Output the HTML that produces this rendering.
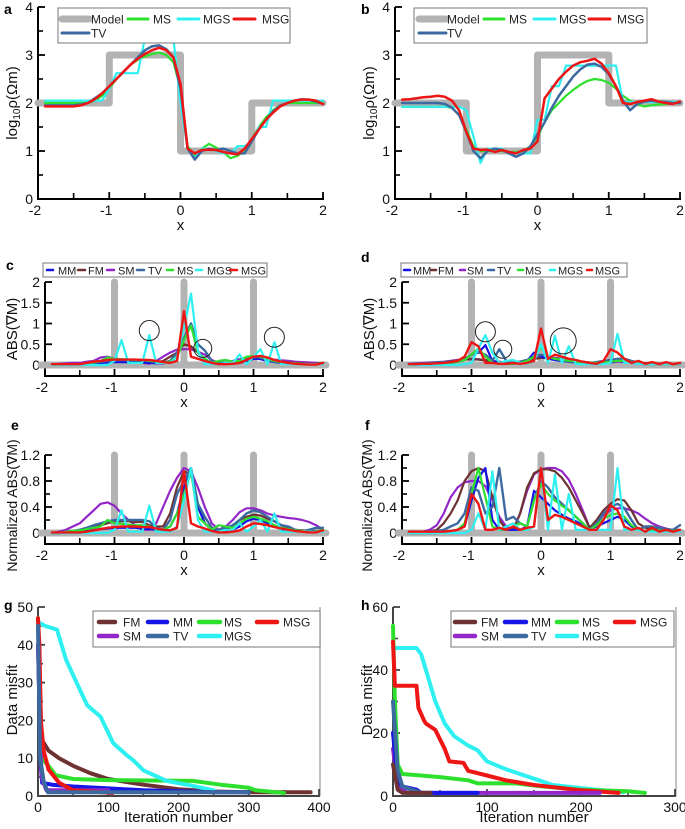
<!DOCTYPE html>
<html><head><meta charset="utf-8"><style>
html,body{margin:0;padding:0;background:#fff;}
svg{display:block;font-family:"Liberation Sans",sans-serif;}
</style></head><body>
<svg id="fig" width="685" height="829" viewBox="0 0 685 829" xmlns="http://www.w3.org/2000/svg"></svg>
<script>
// ---------- DATA ----------
const xGrid=[-1.9,-1.8,-1.7,-1.6,-1.5,-1.4,-1.3,-1.2,-1.1,-1.0,-0.9,-0.8,-0.7,-0.6,-0.5,-0.4,-0.3,-0.2,-0.1,0.0,0.1,0.2,0.3,0.4,0.5,0.6,0.7,0.8,0.9,1.0,1.1,1.2,1.3,1.4,1.5,1.6,1.7,1.8,1.9,2.0];
const modelX=[-2,-1,-1,0,0,1,1,2];
const modelA=[2,2,3,3,1,1,2,2];
const modelB=[2,2,1,1,3,3,2,2];
const boundaries=[-1,0,1];
// panel a
const a_MS=[2,2,2,2,2,2,2,2.05,2.15,2.3,2.5,2.65,2.8,2.9,2.97,3.02,3.05,3.0,2.85,2.3,1.1,0.9,1.05,1.15,1.07,0.98,0.85,0.9,1.0,1.25,1.5,1.7,1.85,1.95,2,2,2,2,2,2];
const a_MSG=[1.93,1.93,1.93,1.93,1.93,1.95,2.0,2.08,2.2,2.35,2.5,2.65,2.8,2.92,3.02,3.1,3.15,3.1,2.95,2.4,1.05,0.95,1.02,1.03,1.02,0.98,0.95,0.93,1.05,1.25,1.45,1.65,1.8,1.93,2.0,2.05,2.07,2.07,2.05,1.98];
const a_TV=[1.95,1.95,1.95,1.95,1.95,1.97,2.0,2.1,2.2,2.35,2.5,2.65,2.8,2.95,3.1,3.18,3.2,3.12,2.95,2.3,1.05,0.82,1.0,1.05,1.02,1.05,1.0,0.95,0.95,1.2,1.45,1.65,1.82,1.95,2.0,2.05,2.08,2.07,2.03,1.98];
const a_MGS=[2.05,2.05,2.05,2.05,2.05,2.05,2.05,2.05,2.05,2.3,2.62,2.62,2.62,2.62,3.35,3.35,3.35,3.35,3.35,2.0,1.05,0.85,1.05,1.05,1.0,0.95,0.95,1.1,1.1,1.2,1.5,1.5,2.05,2.05,2.05,2.05,2.05,2.05,2.05,2.05];
// panel b
const b_MSG=[2.07,2.08,2.1,2.12,2.13,2.15,2.13,2.05,1.85,1.4,1.05,1.02,1.03,0.98,1.02,0.98,0.95,1.02,1.05,1.2,2.1,2.3,2.5,2.65,2.78,2.85,2.88,2.92,2.82,2.62,2.35,2.0,1.98,2.02,2.05,2.08,2.03,2.0,1.98,2.03];
const b_MS=[1.92,1.92,1.92,1.92,1.92,1.92,1.92,1.9,1.75,1.45,1.1,1.0,1.0,1.0,1.0,0.98,0.98,1.0,1.1,1.3,1.6,1.85,2.0,2.15,2.27,2.38,2.46,2.5,2.48,2.42,2.3,2.15,2.05,1.97,1.93,1.95,1.97,1.98,2.0,2.0];
const b_TV=[2.0,2.0,2.0,2.0,2.0,2.0,1.98,1.9,1.75,1.4,1.0,0.85,1.0,1.05,1.02,0.95,0.88,0.95,1.1,1.35,1.6,1.9,2.15,2.35,2.55,2.7,2.8,2.82,2.75,2.6,2.35,2.05,1.85,1.98,2.03,2.05,2.03,2.02,2.0,2.0];
const b_MGS=[1.92,1.92,1.92,1.92,1.92,1.92,1.92,1.92,1.92,1.85,1.3,0.75,1.05,1.05,1.05,0.95,0.95,0.95,0.95,1.65,1.65,2.35,2.35,2.78,2.78,2.78,2.78,2.78,2.78,2.78,2.78,2.02,2.02,2.02,2.02,2.02,2.02,2.02,2.02,2.02];
// panel c
const c_MSG=[.02,.02,.02,.02,.02,.05,.08,.1,.12,.13,.13,.13,.13,.12,.12,.1,.07,.05,.1,1.3,.2,.15,.1,.05,.02,.02,.03,.05,.12,.2,.22,.18,.12,.08,.05,.03,.02,.01,.01,.05];
const c_MGS=[0,0,0,0,0,0,0,0,0,.1,.6,.05,.05,.05,.72,.05,.05,.05,.2,.9,1.72,.35,.02,.02,.02,.05,.05,.25,.02,.2,.38,.02,.55,.02,.02,.02,.02,.02,.02,.02];
const c_SM=[.02,.03,.04,.05,.05,.08,.1,.18,.2,.15,.12,.1,.08,.05,.03,.1,.2,.3,.37,.38,.38,.32,.25,.12,.05,.05,.1,.14,.17,.18,.16,.14,.13,.11,.1,.08,.07,.06,.05,.03];
const c_FM=[.02,.02,.02,.02,.02,.04,.06,.08,.1,.1,.1,.1,.1,.08,.06,.06,.1,.2,.3,.5,.45,.3,.15,.05,.03,.03,.05,.1,.15,.18,.17,.12,.1,.08,.06,.05,.04,.03,.03,.05];
const c_TV=[.02,.02,.02,.02,.02,.04,.06,.08,.1,.12,.12,.12,.12,.12,.1,.08,.05,.1,.3,.65,1.0,.5,.35,.1,.05,.05,.05,.08,.15,.2,.18,.12,.08,.05,.04,.03,.03,.02,.02,.05];
const c_MS=[.02,.02,.02,.02,.02,.04,.06,.1,.18,.15,.14,.13,.12,.12,.1,.08,.05,.08,.2,.6,.95,.3,.15,.05,.1,.12,.08,.1,.2,.22,.2,.15,.1,.07,.05,.04,.03,.02,.02,.05];
const c_MM=[.02,.02,.02,.02,.02,.03,.04,.05,.06,.07,.07,.07,.07,.06,.05,.04,.04,.1,.25,.6,1.0,.3,.15,.05,.03,.03,.03,.05,.1,.15,.14,.1,.07,.05,.04,.03,.03,.02,.02,.04];
const c_circleX=[-0.5,0.27,1.3];
const c_circleY=[0.83,0.4,0.67];
// panel d
const d_MSG=[.02,.02,.03,.03,.04,.05,.07,.1,.2,.55,.45,.05,.05,.03,.03,.05,.03,.05,.1,.88,.15,.25,.2,.15,.12,.08,.05,.03,.1,.38,.3,.15,.05,.1,.03,.07,.02,.07,.02,.05];
const d_MGS=[0,0,0,0,0,0,0,0,.02,.05,.4,.72,.3,.05,.1,.12,.05,.03,.1,.5,.05,.7,.05,.45,.02,.02,.02,.02,.02,.05,.75,.05,.05,.03,.02,.02,.02,.02,.02,.02];
const d_TV=[.02,.03,.04,.05,.06,.07,.08,.1,.15,.25,.3,.25,.1,.38,.1,.05,.08,.12,.2,.25,.2,.15,.12,.1,.08,.06,.05,.07,.1,.12,.15,.15,.1,.06,.04,.03,.03,.02,.02,.03];
const d_MM=[.02,.02,.02,.02,.02,.03,.05,.08,.12,.25,.3,.48,.1,.05,.03,.03,.05,.1,.3,.2,.15,.12,.1,.08,.06,.05,.04,.04,.05,.06,.1,.08,.05,.03,.02,.02,.02,.02,.02,.02];
const d_MS=[.02,.02,.02,.02,.02,.03,.05,.08,.12,.25,.4,.2,.05,.03,.03,.03,.05,.1,.2,.42,.2,.15,.12,.1,.08,.06,.05,.05,.06,.08,.1,.1,.07,.04,.02,.02,.02,.02,.02,.02];
const d_SM=[.03,.04,.05,.06,.07,.08,.1,.12,.14,.15,.14,.12,.1,.08,.06,.06,.08,.12,.15,.18,.18,.17,.15,.12,.1,.08,.06,.05,.05,.06,.08,.08,.06,.05,.04,.04,.03,.03,.02,.02];
const d_FM=[.02,.03,.04,.05,.06,.07,.09,.11,.13,.14,.13,.11,.09,.07,.05,.06,.08,.12,.15,.17,.17,.16,.14,.12,.1,.08,.06,.05,.06,.08,.1,.1,.07,.05,.04,.03,.03,.02,.02,.02];
const d_circleX=[-0.8,-0.55,0.32];
const d_circleY=[0.8,0.38,0.58];
// panel e
const e_SM=[0,.02,.05,.1,.15,.25,.35,.45,.47,.42,.3,.2,.12,.05,.05,.15,.4,.65,.85,1.0,.95,.7,.4,.15,.05,.1,.2,.32,.38,.38,.35,.3,.27,.25,.23,.22,.2,.17,.12,.05];
const e_FM=[0,0,.02,.03,.05,.07,.1,.12,.15,.18,.18,.18,.17,.17,.12,.1,.1,.3,.7,.95,.9,.45,.15,.05,.05,.05,.1,.2,.25,.28,.27,.22,.18,.12,.08,.05,.04,.03,.03,.05];
const e_TV=[0,0,.02,.03,.05,.08,.12,.15,.18,.2,.2,.2,.2,.2,.18,.08,.05,.2,.6,.8,1.0,.45,.25,.08,.05,.08,.12,.2,.3,.35,.32,.25,.18,.12,.1,.05,.03,.05,.08,.08];
const e_MS=[0,0,.02,.03,.04,.06,.08,.1,.2,.15,.14,.13,.12,.12,.1,.06,.05,.1,.3,.6,.95,.25,.15,.05,.12,.1,.08,.15,.22,.25,.22,.18,.12,.08,.06,.04,.03,.02,.02,.05];
const e_MM=[0,0,.01,.02,.03,.04,.05,.06,.07,.08,.08,.08,.08,.07,.06,.05,.05,.1,.3,.7,1.0,.4,.15,.05,.03,.03,.05,.1,.18,.22,.2,.15,.1,.06,.05,.04,.03,.02,.02,.04];
const e_MGS=[0,0,0,0,0,0,0,0,0,.05,.35,.02,.02,.02,.42,.02,.02,.02,.1,.5,1.0,.2,.02,.02,.02,.05,.05,.15,.02,.1,.2,.02,.3,.02,.02,.02,.02,.02,.02,.02];
const e_MSG=[.01,.01,.01,.01,.01,.02,.04,.06,.08,.09,.1,.1,.1,.09,.09,.07,.05,.04,.08,.95,.15,.1,.07,.03,.01,.01,.02,.04,.1,.15,.14,.12,.09,.07,.05,.03,.02,.01,.01,.04];
// panel f
const f_SM=[0,0,.02,.05,.12,.3,.55,.7,.78,.8,.8,.72,.5,.25,.1,.05,.3,.65,.9,.98,1.0,1.0,.95,.82,.6,.35,.08,.15,.28,.35,.38,.38,.35,.3,.22,.15,.1,.07,.04,.02];
const f_FM=[0,0,0,.02,.05,.15,.3,.5,.8,.95,1.0,.95,.55,.2,.05,.05,.3,.7,.92,.98,.98,.95,.85,.7,.5,.3,.08,.2,.35,.45,.52,.5,.35,.15,.08,.06,.05,.05,.05,.05];
const f_TV=[0,0,0,.02,.03,.05,.1,.15,.3,.7,.65,.3,.4,1.0,.2,.25,.15,.1,.5,.8,.7,.55,.45,.35,.25,.15,.05,.15,.3,.4,.45,.38,.2,.05,.1,.1,.08,.06,.05,.12];
const f_MM=[0,0,0,0,0,.02,.03,.05,.1,.5,.85,1.0,.2,.05,.05,.05,.05,.1,.65,.55,.45,.35,.28,.22,.18,.12,.06,.1,.15,.2,.25,.2,.1,.05,.03,.03,.03,.03,.03,.03];
const f_MS=[0,0,0,0,0,.02,.03,.05,.15,.6,1.0,.55,.1,.05,.05,.1,.15,.1,.5,.75,.6,.5,.42,.35,.25,.15,.05,.12,.22,.28,.3,.25,.12,.05,.03,.05,.04,.03,.03,.05];
const f_MGS=[0,0,0,0,0,0,0,0,0,.05,.3,.05,.95,.05,.1,.15,.05,.05,.1,1.0,.05,.9,.05,.6,.05,.05,.05,.05,.05,.05,1.0,.05,.05,.05,.02,.02,.02,.02,.02,.02];
const f_MSG=[.02,.02,.02,.02,.02,.02,.03,.05,.1,.6,.45,.05,.05,.08,.05,.1,.05,.08,.1,1.0,.2,.28,.25,.2,.15,.1,.05,.05,.2,.43,.35,.1,.05,.08,.02,.08,.02,.05,.02,.05];
// panel g (iteration, misfit)
const g_FM_it=[0,5,15,30,50,75,100,150,200,250,300,388];
const g_FM_v=[47,15,12,10,8,6,4.5,3,1.8,1.2,1,1];
const g_MM_it=[0,4,6,20,50,100,150,250,300];
const g_MM_v=[40,8,3.5,3,2.5,2,1.5,1,1];
const g_MS_it=[0,5,15,25,50,100,160,220,260,300,310,350];
const g_MS_v=[47,10,8,5.5,4.5,4.2,4.1,4,3,2.2,1.5,0.8];
const g_MSG_it=[0,2,4,8,15,30,50,106];
const g_MSG_v=[47,40,20,12,7,3.5,1.5,0.8];
const g_SM_it=[0,5,12,100];
const g_SM_v=[40,5,1.5,1.5];
const g_TV_it=[0,3,8,14,300];
const g_TV_v=[45,10,4,1,1];
const g_MGS_it=[0,10,27,40,55,70,89,107,125,136,150,183,220,250];
const g_MGS_v=[46,45,44,36,30,24,21,14,11,9.4,6.8,4,2.7,1.5];
// panel h
const h_FM_it=[0,5,10,40];
const h_FM_v=[10,2,1,1];
const h_MM_it=[0,5,10,25,30,90];
const h_MM_v=[20,5,3,2,1,1];
const h_MS_it=[0,2,5,10,30,50,80,90,130,160,200,250,268];
const h_MS_v=[54,30,10,7,6.5,6,5,4,4,3,2,1.5,1];
const h_MSG_it=[0,2,10,25,27,33,35,45,55,60,75,80,100,120,150,200,240];
const h_MSG_v=[49,35,35,35,28,24,23,21,15,11,10.5,8,6.5,5,3.5,1.8,1];
const h_SM_it=[0,5,15,220];
const h_SM_v=[15,3,1,1];
const h_TV_it=[0,5,10,30,40];
const h_TV_v=[30,8,3,1,1];
const h_MGS_it=[0,25,30,35,45,55,65,80,90,100,120,150,170,200,245];
const h_MGS_v=[47,47,45,40,30,23,19,16,14.5,11,8.5,5.5,3.5,2.5,1.2];

// ---------- STYLE ----------
const COL={Model:'#b3b3b3',MM:'#1515e6',FM:'#6e3232',SM:'#9326c8',TV:'#3c6aa0',MS:'#2ee02e',MGS:'#2ef0f0',MSG:'#ee1515'};
const NS='http://www.w3.org/2000/svg';
const svg=document.getElementById('fig');
function mk(tag,attrs,parent){const e=document.createElementNS(NS,tag);for(const k in attrs)e.setAttribute(k,attrs[k]);(parent||svg).appendChild(e);return e;}

function makePanel(p){
  const g=mk('g',{});
  
  
  const sx=v=>p.x0+(v-p.xmin)/(p.xmax-p.xmin)*(p.x1-p.x0);
  const sy=v=>p.y0+(v-p.ymin)/(p.ymax-p.ymin)*(p.y1-p.y0);
  p.sx=sx;p.sy=sy;p.g=g;
  const ax=p.axisX, ay=p.axisY, ac=p.axisColor||'#000';
  const yl=mk('line',{x1:ax,y1:ay,x2:ax,y2:p.y1,stroke:ac,'stroke-width':2},g);
  
  
  const xl=mk('line',{x1:ax-1,y1:ay,x2:p.x1+1,y2:ay,stroke:ac,'stroke-width':2},g);
  
  
  if(p.rightFrame){
    const rf=mk('line',{x1:p.x1+1,y1:ay,x2:p.x1+1,y2:p.y1,stroke:'#999','stroke-width':1.2},g);
    
    
  }
  p.yMinor.forEach(v=>{mk('line',{x1:ax,y1:sy(v),x2:ax+5,y2:sy(v),stroke:ac,'stroke-width':1.6},g);});
  p.yTicks.forEach((v,i)=>{
    mk('line',{x1:ax,y1:sy(v),x2:ax+7,y2:sy(v),stroke:ac,'stroke-width':1.8},g);
    const t=mk('text',{x:ax-5,y:sy(v)+5,'text-anchor':'end','font-size':14,fill:'#111'},g);
    t.textContent=p.yLabels[i];
    
    
  });
  p.xMinor.forEach(v=>{mk('line',{x1:sx(v),y1:ay,x2:sx(v),y2:ay-6,stroke:ac,'stroke-width':1.6},g);});
  p.xTicks.forEach((v,i)=>{
    mk('line',{x1:sx(v),y1:ay,x2:sx(v),y2:ay-7,stroke:ac,'stroke-width':1.8},g);
    const t=mk('text',{x:sx(v)-(p.xLabels[i].startsWith('-')?3:0),y:ay+16,'text-anchor':'middle','font-size':14,fill:'#111'},g);
    t.textContent=p.xLabels[i];
    
    
  });
  const xt=mk('text',{x:(p.x0+p.x1)/2,y:ay+p.xTitleDy,'text-anchor':'middle','font-size':p.xTitleSize||15,fill:'#111'},g);
  xt.textContent=p.xTitle;
  
  
  const yt=mk('text',{x:0,y:0,'text-anchor':'middle','font-size':p.yTitleSize||15,fill:'#111',transform:`translate(${p.yTitleX},${p.yTitleY}) rotate(-90)`},g);
  if(p.yTitleHTML){yt.innerHTML=p.yTitleHTML;}else{yt.textContent=p.yTitle;}
  
  
  const lt=mk('text',{x:p.letterX,y:p.letterY,'font-size':14,'font-weight':'bold',fill:'#000'},g);
  lt.textContent=p.id;
  
  
  return p;
}
function drawSeries(p,xs,ys,color,w,name){
  const pts=ys.map((v,i)=>p.sx(xs[i]).toFixed(1)+','+p.sy(v).toFixed(1)).join(' ');
  const l=mk('polyline',{points:pts,fill:'none',stroke:color,'stroke-width':w,'stroke-linejoin':'round','stroke-linecap':'round'},p.g);
  
  
}
function drawGradModel(p){
  const h=mk('line',{x1:p.sx(-2)-4,y1:p.sy(0),x2:p.sx(2)+3,y2:p.sy(0),stroke:COL.Model,'stroke-width':7,'stroke-linecap':'round'},p.g);
  
  
  boundaries.forEach(b=>{
    const v=mk('line',{x1:p.sx(b),y1:p.sy(0),x2:p.sx(b),y2:p.sy(p.ymax),stroke:COL.Model,'stroke-width':7,'stroke-linecap':'round'},p.g);
    
    
  });
}
function drawCircles(p,cx,cy,rs){
  cx.forEach((x,i)=>{
    const c=mk('circle',{cx:p.sx(x),cy:p.sy(cy[i]),r:rs[i],fill:'none',stroke:'#222','stroke-width':1},p.g);
    
    
  });
}
function legend(p,box,items){
  const r=mk('rect',{x:box[0],y:box[1],width:box[2],height:box[3],fill:'#fff',stroke:'#777','stroke-width':1},p.g);
  
  
  items.forEach(it=>{
    const l=mk('line',{x1:it[1],y1:it[4],x2:it[2],y2:it[4],stroke:COL[it[0]],'stroke-width':it[5]||3,'stroke-linecap':'round'},p.g);
    
    
    const t=mk('text',{x:it[3],y:it[4]+4.5,'font-size':it[6]||13,fill:'#222'},p.g);
    t.textContent=it[0];
    
    
  });
}

// ---------- PANELS ----------
const rhoTitle='log<tspan font-size="10" dy="3">10</tspan><tspan dy="-3">ρ(Ωm)</tspan>';
const xT=[-2,-1,0,1,2], xL=['-2','-1','0','1','2'], xM=[-1.5,-0.5,0.5,1.5];
function modelPanel(id,x0,x1,yTX,lx){
  return makePanel({id,x0,x1,xmin:-2,xmax:2,y0:199,y1:7,ymin:0,ymax:4,axisX:x0,axisY:199,
    yTicks:[0,1,2,3,4],yLabels:['0','1','2','3','4'],yMinor:[0.5,1.5,2.5,3.5],
    xTicks:xT,xLabels:xL,xMinor:xM,xTitle:'x',xTitleDy:31,yTitleX:yTX,yTitleY:103,yTitleHTML:rhoTitle,letterX:lx,letterY:14});
}
const pa=modelPanel('a',38,323,17,4);
drawSeries(pa,modelX,modelA,COL.Model,7,'model-line');
drawSeries(pa,xGrid,a_MS,COL.MS,2.2,'ms-line');
drawSeries(pa,xGrid,a_MGS,COL.MGS,2.2,'mgs-line');
drawSeries(pa,xGrid,a_TV,COL.TV,2.5,'tv-line');
drawSeries(pa,xGrid,a_MSG,COL.MSG,2.5,'msg-line');
legend(pa,[58,8,232,35],[['Model',62,89,91,19,7,12],['MS',128,148,153,19,3,12],['MGS',178,199,203,19,3,12],['MSG',234,255,262,19,3,12],['TV',62,89,91,33,3,12]]);

const pb=modelPanel('b',395,680,374,361);
drawSeries(pb,modelX,modelB,COL.Model,7,'model-line');
drawSeries(pb,xGrid,b_MS,COL.MS,2.2,'ms-line');
drawSeries(pb,xGrid,b_MGS,COL.MGS,2.2,'mgs-line');
drawSeries(pb,xGrid,b_TV,COL.TV,2.5,'tv-line');
drawSeries(pb,xGrid,b_MSG,COL.MSG,2.5,'msg-line');
legend(pb,[414,8,233,35],[['Model',419,446,447,19,7,12],['MS',484,504,509,19,3,12],['MGS',534,555,559,19,3,12],['MSG',589,610,617,19,3,12],['TV',419,446,447,33,3,12]]);

function gradPanel(id,x0,y0,y1,ymax,yT,yL,yM,axisY,title,yTX,lx,ly,ts){
  return makePanel({id,x0,x1:x0===45?323:680,xmin:-2,xmax:2,y0,y1,ymin:0,ymax,axisX:x0,axisY,
    yTicks:yT,yLabels:yL,yMinor:yM,xTicks:xT,xLabels:xL,xMinor:xM,xTitle:'x',xTitleDy:31,
    yTitleX:yTX,yTitleY:(y1+axisY)/2+(id==='e'||id==='f'?6:0),yTitle:title,yTitleSize:ts,letterX:lx,letterY:ly});
}
const gT=[0,0.5,1,1.5,2], gL=['0','0.5','1','1.5','2'];
const nT=[0,0.4,0.8,1.2], nL=['0','0.4','0.8','1.2'];
function gradSeries(p,S){
  drawGradModel(p);
  drawSeries(p,xGrid,S.SM,COL.SM,2.2,'sm-line');
  drawSeries(p,xGrid,S.FM,COL.FM,2.2,'fm-line');
  drawSeries(p,xGrid,S.MM,COL.MM,2.2,'mm-line');
  drawSeries(p,xGrid,S.TV,COL.TV,2.4,'tv-line');
  drawSeries(p,xGrid,S.MS,COL.MS,2.2,'ms-line');
  drawSeries(p,xGrid,S.MGS,COL.MGS,2.2,'mgs-line');
  drawSeries(p,xGrid,S.MSG,COL.MSG,2.4,'msg-line');
}
const pc=gradPanel('c',45,365,282,2,gT,gL,[],376,'ABS(∇M)',17,6,270,15);
gradSeries(pc,{SM:c_SM,FM:c_FM,MM:c_MM,TV:c_TV,MS:c_MS,MGS:c_MGS,MSG:c_MSG});
drawCircles(pc,c_circleX,c_circleY,[10,9,10]);
legend(pc,[43,263,224,14],[['MM',47,53,58,270,2.5,11],['FM',78,85,88,270,2.5,11],['SM',107,114,118,270,2.5,11],['TV',137,144,148,270,2.5,11],['MS',167,173,177,270,2.5,11],['MGS',196,202,207,270,2.5,11],['MSG',230,237,241,270,2.5,11]]);

const pd=gradPanel('d',402,365,282,2,gT,gL,[],376,'ABS(∇M)',374,361,262,15);
gradSeries(pd,{SM:d_SM,FM:d_FM,MM:d_MM,TV:d_TV,MS:d_MS,MGS:d_MGS,MSG:d_MSG});
drawCircles(pd,d_circleX,d_circleY,[10,9,13]);
legend(pd,[401,263,226,14],[['MM',404,410,413,270,2.5,11],['FM',431,436,438,270,2.5,11],['SM',460,465,467,270,2.5,11],['TV',488,494,497,270,2.5,11],['MS',518,523,525,270,2.5,11],['MGS',550,555,558,270,2.5,11],['MSG',587,592,595,270,2.5,11]]);

const pe=gradPanel('e',45,533,455,1.2,nT,nL,[0.2,0.6,1.0],544,'Normalized ABS(∇M)',17,11,430,14);
gradSeries(pe,{SM:e_SM,FM:e_FM,MM:e_MM,TV:e_TV,MS:e_MS,MGS:e_MGS,MSG:e_MSG});
const pf=gradPanel('f',402,533,455,1.2,nT,nL,[0.2,0.6,1.0],544,'Normalized ABS(∇M)',372,365,430,14);
gradSeries(pf,{SM:f_SM,FM:f_FM,MM:f_MM,TV:f_TV,MS:f_MS,MGS:f_MGS,MSG:f_MSG});

// convergence panels
const pg=makePanel({id:'g',x0:38,x1:319,xmin:0,xmax:400,y0:796,y1:607,ymin:0,ymax:50,axisX:38,axisY:796,axisColor:'#444',rightFrame:true,
  yTicks:[0,10,20,30,40,50],yLabels:['0','10','20','30','40','50'],yMinor:[5,15,25,35,45],
  xTicks:[0,100,200,300,400],xLabels:['0','100','200','300','400'],xMinor:[50,150,250,350],
  xTitle:'Iteration number',xTitleDy:26,xTitleSize:15,yTitleX:17,yTitleY:700,yTitle:'Data misfit',letterX:4,letterY:610});
drawSeries(pg,g_FM_it,g_FM_v,COL.FM,4,'fm-line');
drawSeries(pg,g_MS_it,g_MS_v,COL.MS,4,'ms-line');
drawSeries(pg,g_MGS_it,g_MGS_v,COL.MGS,4,'mgs-line');
drawSeries(pg,g_MM_it,g_MM_v,COL.MM,4,'mm-line');
drawSeries(pg,g_SM_it,g_SM_v,COL.SM,4,'sm-line');
drawSeries(pg,g_MSG_it,g_MSG_v,COL.MSG,4,'msg-line');
drawSeries(pg,g_TV_it,g_TV_v,COL.TV,4,'tv-line');
legend(pg,[93,611,227,36],[['FM',99,115,123,622,4.5,12],['MM',148,167,173,622,4.5,12],['MS',199,220,224,622,4.5,12],['MSG',257,277,283,622,4.5,12],['SM',99,117,123,636,4.5,12],['TV',148,167,173,636,4.5,12],['MGS',199,220,224,636,4.5,12]]);

const ph=makePanel({id:'h',x0:393,x1:675,xmin:0,xmax:300,y0:796,y1:607,ymin:0,ymax:60,axisX:393,axisY:796,axisColor:'#444',rightFrame:true,
  yTicks:[0,20,40,60],yLabels:['0','20','40','60'],yMinor:[10,30,50],
  xTicks:[0,100,200,300],xLabels:['0','100','200','300'],xMinor:[50,150,250],
  xTitle:'Iteration number',xTitleDy:26,xTitleSize:15,yTitleX:372,yTitleY:700,yTitle:'Data misfit',letterX:361,letterY:610});
drawSeries(ph,h_MGS_it,h_MGS_v,COL.MGS,4,'mgs-line');
drawSeries(ph,h_MS_it,h_MS_v,COL.MS,4,'ms-line');
drawSeries(ph,h_MSG_it,h_MSG_v,COL.MSG,4,'msg-line');
drawSeries(ph,h_SM_it,h_SM_v,COL.SM,4,'sm-line');
drawSeries(ph,h_MM_it,h_MM_v,COL.MM,4,'mm-line');
drawSeries(ph,h_TV_it,h_TV_v,COL.TV,4,'tv-line');
drawSeries(ph,h_FM_it,h_FM_v,COL.FM,4,'fm-line');
legend(ph,[451,611,223,36],[['FM',455,475,481,622,4.5,12],['MM',505,526,531,622,4.5,12],['MS',557,577,582,622,4.5,12],['MSG',615,634,640,622,4.5,12],['SM',455,475,481,636,4.5,12],['TV',505,526,531,636,4.5,12],['MGS',557,577,582,636,4.5,12]]);
</script>
</body></html>
